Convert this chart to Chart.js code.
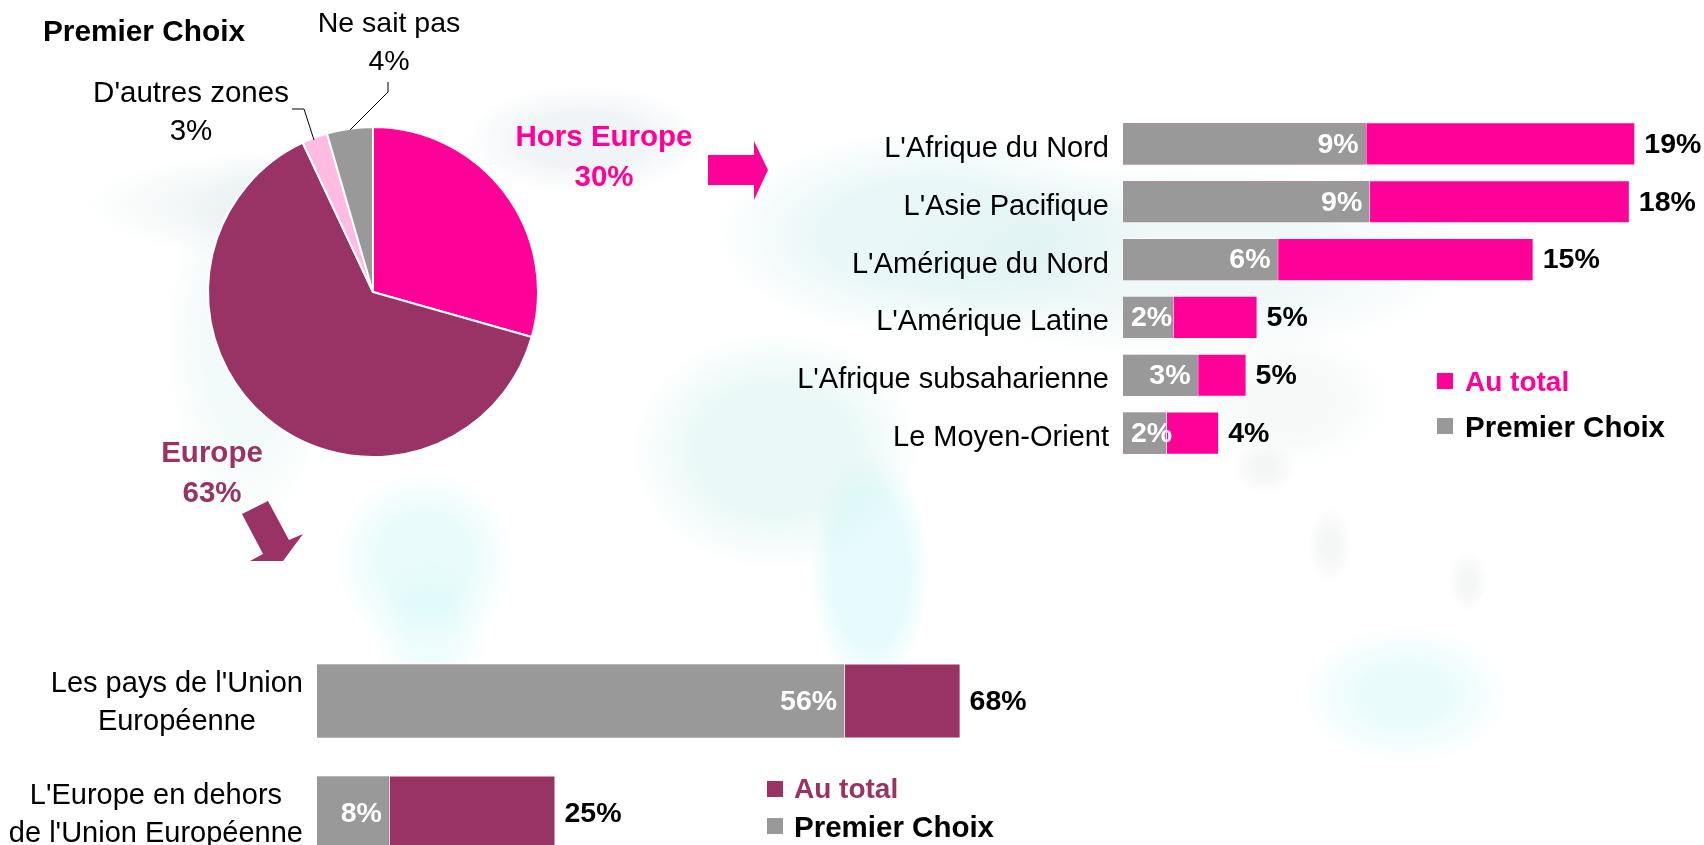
<!DOCTYPE html>
<html lang="fr">
<head>
<meta charset="utf-8">
<title>Premier Choix</title>
<script src="https://cdn.jsdelivr.net/npm/chart.js@4"></script>
<style>
	html, body { margin: 0; width: 1704px; height: 845px; overflow: hidden; background: #fff; }
	body { position: relative; font-family: "Liberation Sans", Arial, sans-serif; color: #000; }
	#map {
		position: absolute; inset: 0;
		background:
			radial-gradient(ellipse 215px 55px at 300px 205px, rgba(215,228,228,.36) 0 45%, transparent),
			radial-gradient(ellipse 120px 55px at 585px 140px, rgba(218,226,232,.38) 0 50%, transparent),
			radial-gradient(ellipse 85px 190px at 250px 340px, rgba(215,242,238,.34) 0 50%, transparent),
			radial-gradient(ellipse 90px 90px at 425px 560px, rgba(215,248,248,.55) 0 50%, transparent),
			radial-gradient(ellipse 60px 70px at 430px 630px, rgba(220,250,250,.45) 0 40%, transparent),
			radial-gradient(ellipse 145px 120px at 775px 450px, rgba(205,240,236,.42) 0 55%, transparent),
			radial-gradient(ellipse 60px 120px at 870px 570px, rgba(215,248,250,.6) 0 65%, transparent),
			radial-gradient(ellipse 215px 105px at 930px 235px, rgba(210,238,240,.48) 0 50%, transparent),
			radial-gradient(ellipse 290px 100px at 1180px 260px, rgba(218,238,238,.42) 0 50%, transparent),
			radial-gradient(ellipse 100px 70px at 1290px 400px, rgba(232,240,238,.4) 0 40%, transparent),
			radial-gradient(ellipse 105px 70px at 1405px 695px, rgba(215,248,250,.5) 0 45%, transparent),
			radial-gradient(ellipse 22px 38px at 1330px 545px, rgba(225,228,228,.35) 0 35%, transparent),
			radial-gradient(ellipse 20px 30px at 1468px 582px, rgba(225,228,228,.35) 0 35%, transparent),
			radial-gradient(ellipse 32px 26px at 1265px 468px, rgba(225,228,228,.35) 0 35%, transparent);
	}
	canvas { position: absolute; display: block; }
	.t { position: absolute; white-space: nowrap; transform: translate(-50%, -50%); font-size: 28.5px; line-height: 37.5px; text-align: center; }
	.b { font-weight: bold; font-size: 29.5px; line-height: 39.5px; }
	.pink { color: #ff0099; }
	.plum { color: #993366; }
	.leg { position: absolute; white-space: nowrap; transform: translateY(-50%); font-weight: bold; font-size: 28px; line-height: 34px; }
	.sq { position: absolute; width: 16px; height: 16px; }
	svg { position: absolute; left: 0; top: 0; }
</style>
</head>
<body>
<div id="map"></div>
<canvas id="pieChart" width="340" height="340" style="left:203px;top:122px"></canvas>
<canvas id="outChart" width="924" height="347" style="left:780px;top:115px"></canvas>
<canvas id="euChart" width="1060" height="224" style="left:0;top:645px"></canvas>

<svg width="1704" height="845">
	<polygon points="708,155 754,155 754,141 768,170 754,200 754,185 708,185" fill="#ff0099"/>
	<polygon points="242,514 268,501 289,540 303,534 283,561 250,561 263,554" fill="#993366"/>
	<polyline points="388,82 388,92 350,130" fill="none" stroke="#000" stroke-width="1"/>
	<polyline points="292,109 304,109 314,140" fill="none" stroke="#000" stroke-width="1"/>
</svg>

<div class="t b" style="left:144px;top:31px;font-size:29.8px">Premier Choix</div>
<div class="t" style="left:389px;top:41px">Ne sait pas<br>4%</div>
<div class="t" style="left:191px;top:110px;font-size:29.5px">D'autres zones<br>3%</div>
<div class="t b pink" style="left:604px;top:155px">Hors Europe<br>30%</div>
<div class="t b plum" style="left:212px;top:471px">Europe<br>63%</div>

<div class="sq" style="left:1437px;top:373px;background:#ff0099"></div>
<div class="leg pink" style="left:1465px;top:382px">Au total</div>
<div class="sq" style="left:1437px;top:418px;background:#999"></div>
<div class="leg" style="left:1465px;top:427px;font-size:29.5px">Premier Choix</div>

<div class="sq" style="left:767px;top:781px;background:#993366"></div>
<div class="leg plum" style="left:794px;top:789px">Au total</div>
<div class="sq" style="left:767px;top:818px;background:#999"></div>
<div class="leg" style="left:794px;top:827px;font-size:29.5px">Premier Choix</div>

<script>
// Data
const pieLabels = ["Hors Europe", "Europe", "D'autres zones", "Ne sait pas"];
const pieValues = [29.4, 63.6, 2.5, 4.5];
const pieColors = ["#ff0099", "#993366", "#ffbbe1", "#999999"];

const outLabels = [["L'Afrique du Nord"], ["L'Asie Pacifique"], ["L'Amérique du Nord"], ["L'Amérique Latine"], ["L'Afrique subsaharienne"], ["Le Moyen-Orient"]];
const outTotal = [18.65, 18.45, 14.95, 4.9, 4.5, 3.5];
const outFirst = [8.87, 9.0, 5.66, 1.85, 2.75, 1.6];

const euLabels = [["Les pays de l'Union", "Européenne"], ["L'Europe en dehors", "de l'Union Européenne"]];
const euTotal = [68, 25.2];
const euFirst = [55.8, 7.7];

const FONT = '"Liberation Sans", Arial, sans-serif';
Chart.defaults.font.family = FONT;
Chart.defaults.animation = false;
Chart.defaults.responsive = false;

// --------------------------- Value labels ---------------------------
const valueLabels = {
	id: "valueLabels",
	afterDatasetsDraw(chart) {
		const ctx = chart.ctx;
		const left = chart.chartArea.left;
		ctx.save();
		ctx.font = `bold 28.5px ${FONT}`;
		ctx.textBaseline = "middle";
		ctx.textAlign = "left";
		chart.getDatasetMeta(0).data.forEach((bar, i) => {
			const total = chart.data.datasets[0].data[i];
			ctx.fillStyle = "#000";
			ctx.fillText(`${Math.round(total)}%`, bar.x + 9, bar.y + 1);
		});
		chart.getDatasetMeta(1).data.forEach((bar, i) => {
			const text = `${Math.round(chart.data.datasets[1].data[i])}%`;
			const w = ctx.measureText(text).width;
			ctx.fillStyle = "#fff";
			ctx.fillText(text, Math.max(bar.x - 8 - w, left + 8), bar.y + 1);
		});
		ctx.restore();
	},
};

// category labels: block sits right against the bars, lines centred inside it
const blockLabels = {
	id: "blockLabels",
	afterDraw(chart, args, opts) {
		const ctx = chart.ctx;
		const yScale = chart.scales.y;
		const right = chart.chartArea.left - 14;
		ctx.save();
		ctx.font = `29px ${FONT}`;
		ctx.textAlign = "center";
		ctx.textBaseline = "middle";
		ctx.fillStyle = "#000";
		chart.data.labels.forEach((lines, i) => {
			const w = Math.max(...lines.map((l) => ctx.measureText(l).width));
			const y = yScale.getPixelForTick(i) + opts.shift;
			lines.forEach((line, n) => {
				ctx.fillText(line, right - w / 2, y + (n - (lines.length - 1) / 2) * 38);
			});
		});
		ctx.restore();
	},
};

// --------------------------- Bar chart helper ---------------------------
function barData(labels, total, first, color, thickness) {
	return {
		labels: labels,
		datasets: [
			{ label: "Au total", data: total, backgroundColor: color, borderColor: "#fff", borderWidth: 1, order: 2, grouped: false, categoryPercentage: 1, barPercentage: thickness },
			{ label: "Premier Choix", data: first, backgroundColor: "#999999", borderColor: "#fff", borderWidth: 1, order: 1, grouped: false, categoryPercentage: 1, barPercentage: thickness },
		],
	};
}

// --------------------------- Pie ---------------------------
new Chart(document.getElementById("pieChart"), {
	type: "pie",
	data: {
		labels: pieLabels,
		datasets: [{ data: pieValues, backgroundColor: pieColors, borderColor: "#fff", borderWidth: 2 }],
	},
	options: {
		radius: 165,
		plugins: { legend: { display: false }, tooltip: { enabled: false } },
	},
});

// --------------------------- Hors Europe ---------------------------
new Chart(document.getElementById("outChart"), {
	type: "bar",
	data: barData(outLabels, outTotal, outFirst, "#ff0099", 0.745),
	options: {
		indexAxis: "y",
		layout: { padding: { left: 343 } },
		scales: {
			x: { display: false, min: 0, max: 21.15 },
			y: { display: false },
		},
		plugins: { legend: { display: false }, tooltip: { enabled: false }, blockLabels: { shift: 5 } },
	},
	plugins: [valueLabels, blockLabels],
});

// --------------------------- Europe ---------------------------
new Chart(document.getElementById("euChart"), {
	type: "bar",
	data: barData(euLabels, euTotal, euFirst, "#993366", 0.67),
	options: {
		indexAxis: "y",
		layout: { padding: { left: 317 } },
		scales: {
			x: { display: false, min: 0, max: 78.5 },
			y: { display: false },
		},
		plugins: { legend: { display: false }, tooltip: { enabled: false }, blockLabels: { shift: 2 } },
	},
	plugins: [valueLabels, blockLabels],
});
</script>
</body>
</html>
